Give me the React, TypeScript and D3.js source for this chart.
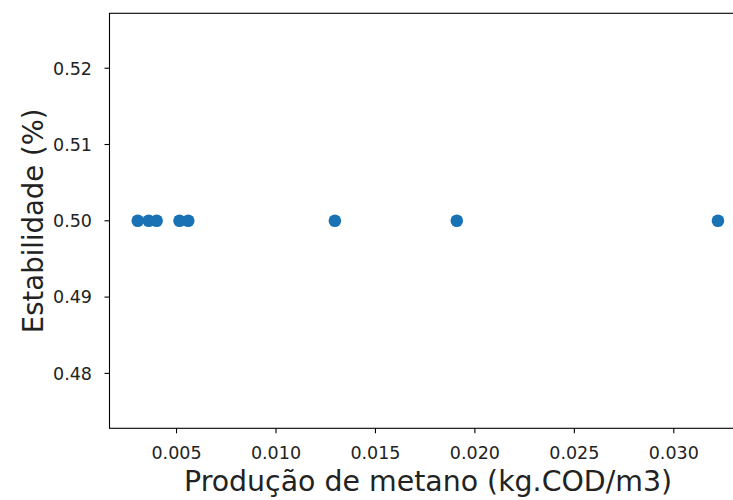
import React from "react";
import * as d3 from "d3";

const methaneProduction = [0.00305, 0.0036, 0.004, 0.00515, 0.00559, 0.01296, 0.01909, 0.03222];
const stability = [0.5, 0.5, 0.5, 0.5, 0.5, 0.5, 0.5, 0.5];
const xTicks = [0.005, 0.01, 0.015, 0.02, 0.025, 0.03];
const yTicks = [0.48, 0.49, 0.5, 0.51, 0.52];
const xDomain = [0.00163, 0.03366];
const yDomain = [0.4728, 0.5272];
const xLabel = "Produção de metano (kg.COD/m3)";
const yLabel = "Estabilidade (%)";

const W = 733;
const H = 500;
const left = 109.5;
const right = 746.6;
const top = 13.3;
const bottom = 428.3;
const font = "'DejaVu Sans', sans-serif";

export default function App() {
  const x = d3.scaleLinear().domain(xDomain).range([left, right]);
  const y = d3.scaleLinear().domain(yDomain).range([bottom, top]);
  const fmtX = d3.format(".3f");
  const fmtY = d3.format(".2f");
  return (
    <div style={{ position: "absolute", left: 0, top: 0 }}>
      <svg width={W} height={H} style={{ display: "block", background: "#fff" }}>
        <rect x={0} y={0} width={W} height={H} fill="#fff" />
        {methaneProduction.map((v, i) => (
          <circle key={i} cx={x(v)} cy={y(stability[i])} r={6.3} fill="#1872b4" />
        ))}
        <rect
          x={left}
          y={top}
          width={right - left}
          height={bottom - top}
          fill="none"
          stroke="#000"
          strokeWidth={1.1}
        />
        {xTicks.map((t) => (
          <g key={t}>
            <line x1={x(t)} x2={x(t)} y1={bottom} y2={bottom + 5} stroke="#000" strokeWidth={1.1} />
            <text
              x={x(t)}
              y={459}
              textAnchor="middle"
              fontFamily={font}
              fontSize={17.5}
              fill="#222"
            >
              {fmtX(t)}
            </text>
          </g>
        ))}
        {yTicks.map((t) => (
          <g key={t}>
            <line x1={left - 5} x2={left} y1={y(t)} y2={y(t)} stroke="#000" strokeWidth={1.1} />
            <text
              x={92}
              y={y(t) + 6.4}
              textAnchor="end"
              fontFamily={font}
              fontSize={17.5}
              fill="#222"
            >
              {fmtY(t)}
            </text>
          </g>
        ))}
        <text
          x={(left + right) / 2}
          y={490.5}
          textAnchor="middle"
          fontFamily={font}
          fontSize={28.4}
          fill="#222"
        >
          {xLabel}
        </text>
        <text
          transform={`translate(43,${(top + bottom) / 2}) rotate(-90)`}
          textAnchor="middle"
          fontFamily={font}
          fontSize={27.5}
          fill="#222"
        >
          {yLabel}
        </text>
      </svg>
    </div>
  );
}
